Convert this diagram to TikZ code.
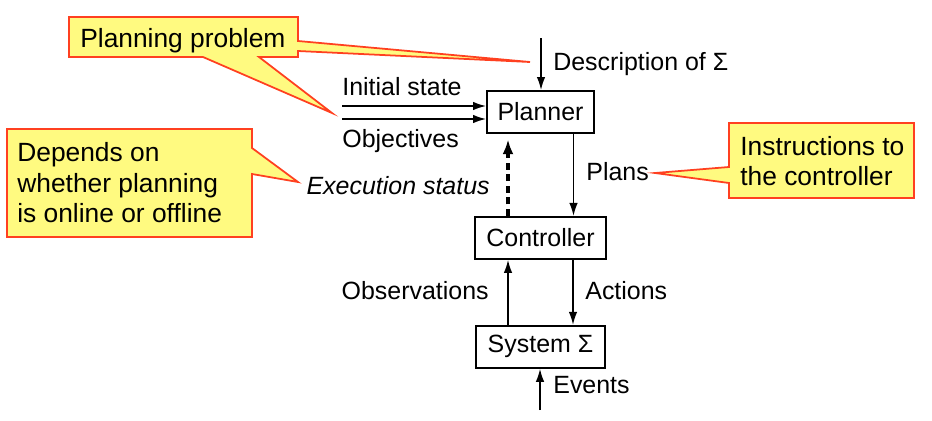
\documentclass[tikz,border=0pt]{standalone}
\usepackage{fontspec}
\setmainfont{Liberation Sans}
\usepackage{xcolor}
\definecolor{noteFill}{RGB}{255,250,128}
\definecolor{noteLine}{RGB}{255,64,32}
\usepackage{tikz}
\usetikzlibrary{arrows.meta, positioning, calc}

\begin{document}
\begin{tikzpicture}[x=0.02cm, y=-0.02cm,
		block/.style={draw, line width=1.1pt, minimum height=0.84cm, inner sep=0pt, font=\fontsize{14.2}{17}\selectfont},
		lbl/.style={font=\fontsize{14.2}{17}\selectfont, inner sep=0pt},
		flow/.style={line width=0.85pt, -{Latex[length=2.6mm, width=1.7mm]}},
		statusflow/.style={line width=2.6pt, dash pattern=on 4pt off 2.6pt, -{Latex[length=3mm, width=2.2mm]}, shorten >=3pt},
		note/.style={fill=noteFill, draw=noteLine, line width=1pt, line join=miter},
		notetext/.style={font=\fontsize{15}{17.4}\selectfont, align=left, inner sep=0pt}]
	\useasboundingbox (0,0) rectangle (932,420);
	% callouts
	\draw[note] (69,17) -- (298,17) -- (298,41) -- (530,62) -- (298,51) -- (298,57) -- (259,57)
		-- (332,113) -- (203,57) -- (69,57) -- cycle;
	\node[notetext, anchor=base west] (probnote) at (80,47) {Planning problem};
	\draw[note] (7,129) -- (252,129) -- (252,148) -- (298,182) -- (252,174) -- (252,237) -- (7,237) -- cycle;
	\node[notetext, anchor=west] (modenote) at (17,183) {Depends on\\whether planning\\is online or offline};
	\draw[note] (729,123) -- (914,123) -- (914,198) -- (729,198) -- (729,183) -- (655,173) -- (729,167) -- cycle;
	\node[notetext, anchor=west] (plannote) at (740,161) {Instructions to\\the controller};
	% blocks
	\node[block, minimum width=2.14cm] (planner) at (540.5,112) {Planner};
	\node[block, minimum width=2.62cm, below=1.64cm of planner] (controller) {Controller};
	\node[block, minimum width=2.58cm, below=1.3cm of controller] (system) {System Σ};
	% inputs
	\coordinate (descin) at (541,38);
	\coordinate (initin) at (342,106);
	\coordinate (objin) at (342,119);
	\coordinate (evin) at (540,410);
	\draw[flow] (descin) -- (descin |- planner.north);
	\draw[flow] (initin) -- (initin -| planner.west);
	\draw[flow] (objin) -- (objin -| planner.west);
	\draw[flow] (evin) -- (evin |- system.south);
	\node[lbl, anchor=base west] (desclbl) at (553,70) {Description of Σ};
	\node[lbl, anchor=base west] (initlbl) at (342,95) {Initial state};
	\node[lbl, anchor=base west] (objlbl) at (342,147) {Objectives};
	\node[lbl, anchor=base west] (evlbl) at (553,393) {Events};
	% loop
	\draw[flow] ([xshift=0.66cm]planner.south) -- ([xshift=0.66cm]controller.north);
	\draw[statusflow] ([xshift=-0.65cm]controller.north) -- ([xshift=-0.65cm]planner.south);
	\draw[flow] ([xshift=0.65cm]controller.south) -- ([xshift=0.65cm]controller.south |- system.north);
	\draw[flow] ([xshift=-0.65cm]controller.south |- system.north) -- ([xshift=-0.65cm]controller.south);
	\node[lbl, anchor=base west] (planslbl) at (586,180) {Plans};
	\node[lbl, anchor=base east, font=\fontsize{14.2}{17}\selectfont\itshape] (statuslbl) at (490,194) {Execution status};
	\node[lbl, anchor=base east] (obslbl) at (489,299) {Observations};
	\node[lbl, anchor=base west] (actlbl) at (585,299) {Actions};
\end{tikzpicture}
\end{document}
